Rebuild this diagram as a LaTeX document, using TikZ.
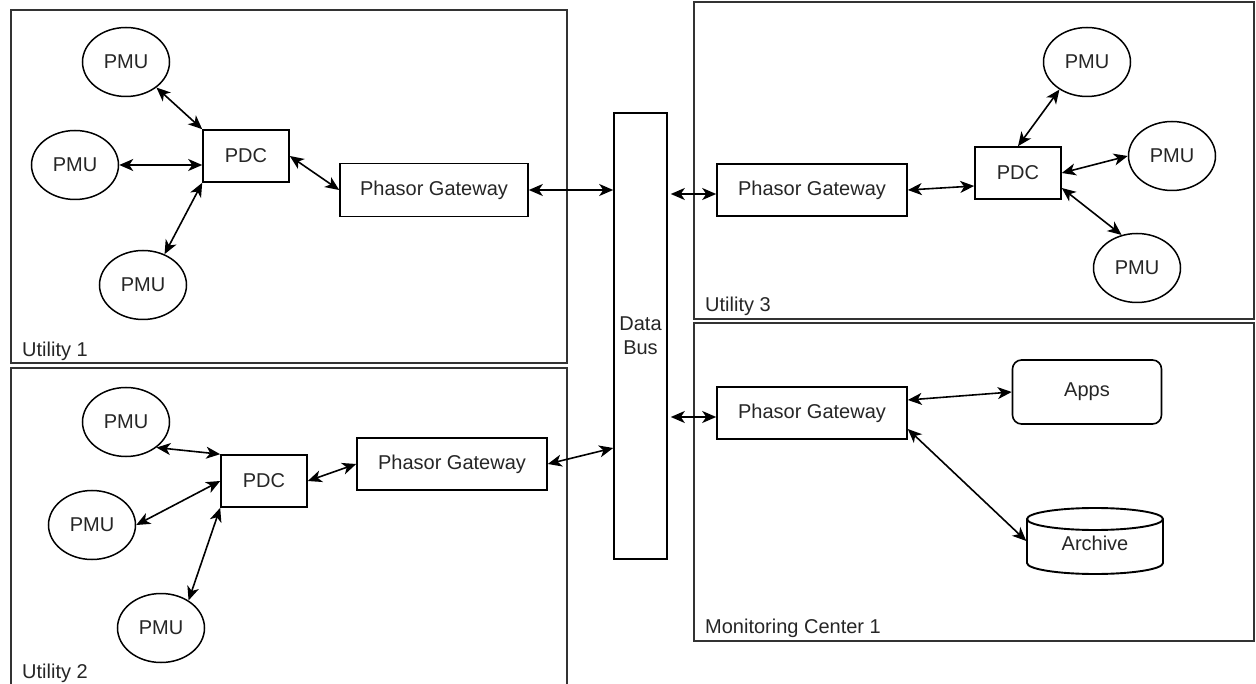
\documentclass[tikz,border=0pt]{standalone}
\usepackage{fontspec}
\setmainfont{Liberation Sans}
\usetikzlibrary{arrows.meta,calc,shapes.geometric}
\begin{document}
\begin{tikzpicture}[x=1pt,y=-1pt,
  every node/.style={font=\fontsize{20}{24}\selectfont, text=black!85},
  rbox/.style={draw=black, line width=1.6pt, inner sep=0pt, fill=white},
  pmu/.style={ellipse, draw=black, line width=1.5pt, inner sep=0pt, minimum width=87, minimum height=69, fill=white},
  pdcbox/.style={rbox, minimum width=86, minimum height=52},
  gw/.style={rbox, minimum width=190, minimum height=52},
  group/.style={draw=black!80, line width=1.8pt},
  lab/.style={anchor=base west, inner sep=0pt},
  tip/.style={Stealth[length=14pt,width=12pt,inset=4pt]},
  link/.style={{Stealth[length=14pt,width=12pt,inset=4pt]}-{Stealth[length=14pt,width=12pt,inset=4pt]}, line width=1.6pt},
  cyl/.style={draw=black, line width=1.9pt}
]
\useasboundingbox (0,0) rectangle (1256,684);
\fill[white] (0,0) rectangle (1256,684);

% groups
\draw[group] (11,10) rectangle (567,363);
\draw[group] (11,368) rectangle (567,690);
\draw[group] (694,2) rectangle (1254,319);
\draw[group] (694,323) rectangle (1254,641);

\node[lab] (l1) at (22,357) {Utility 1};
\node[lab] (l2) at (22,678) {Utility 2};
\node[lab] (l3) at (705,312) {Utility 3};
\node[lab] (l4) at (705,633) {Monitoring Center 1};

% Utility 1
\node[pmu] (u1a) at (126,62) {PMU};
\node[pmu] (u1b) at (75,165) {PMU};
\node[pmu] (u1c) at (143,285) {PMU};
\node[pdcbox] (pdc1) at (246,156) {PDC};
\node[gw, minimum width=188, minimum height=53] (gw1) at (434,190) {Phasor Gateway};

% Data bus
\node[rbox, minimum width=53, minimum height=446, align=center] (bus) at (640.5,336) {Data\\Bus};

% Utility 3
\node[gw] (gw3) at (812,190) {Phasor Gateway};
\node[pdcbox] (pdc3) at (1018,173) {PDC};
\node[pmu] (u3a) at (1087,62) {PMU};
\node[pmu] (u3b) at (1172,156) {PMU};
\node[pmu] (u3c) at (1137,268) {PMU};

% Monitoring center
\node[gw] (gwm) at (812,413) {Phasor Gateway};
\node[rbox, rounded corners=9pt, minimum width=149, minimum height=64] (apps) at (1087,392) {Apps};
\draw[cyl, fill=white] (1027,519) -- (1027,563) arc[start angle=180,end angle=0,x radius=68,y radius=11] -- (1163,519) arc[start angle=0,end angle=-180,x radius=68,y radius=11] -- cycle;
\draw[cyl] (1027,519) arc[start angle=180,end angle=0,x radius=68,y radius=11];
\node[inner sep=0pt, minimum width=137, minimum height=66] (arch) at (1095,543) {Archive};

% Utility 2
\node[pmu] (u2a) at (126,422) {PMU};
\node[pmu] (u2b) at (92,525) {PMU};
\node[pmu] (u2c) at (161,628) {PMU};
\node[pdcbox] (pdc2) at (264,481) {PDC};
\node[gw] (gw2) at (452,464) {Phasor Gateway};

% connectors
\draw[link] (u1a.-40) -- (pdc1.north west);
\draw[link] (u1b.east) -- (u1b.east -| pdc1.west);
\draw[link] (u1c.55) -- (pdc1.south west);
\draw[link] (pdc1.east) -- (gw1.west);
\draw[link] (gw1.east) -- (gw1.east -| bus.west);
\draw[link] (gw2.east) -- ($(bus.west)+(0,112)$);
\draw[link] ($(gw3.west -| bus.east)+(3,4)$) -- ($(gw3.west)+(0,4)$);
\draw[link] ($(gwm.west -| bus.east)+(3,4)$) -- ($(gwm.west)+(0,4)$);
\draw[link] (gw3.east) -- ($(pdc3.west)+(0,13)$);
\draw[link] (pdc3.north) -- (u3a.225);
\draw[link] (pdc3.east) -- (u3b.west);
\draw[link] ($(pdc3.east)+(0,15)$) -- (u3c.115);
\draw[link] ($(gwm.east)+(0,-13)$) -- (apps.west);
\draw[link] ($(gwm.east)+(0,16)$) -- ($(arch.west)+(0,-2)$);
\draw[link] (u2a.-40) -- (pdc2.north west);
\draw[link] (u2b.east) -- (pdc2.west);
\draw[link] (u2c.45) -- (pdc2.south west);
\draw[link] (pdc2.east) -- (gw2.west);
\end{tikzpicture}
\end{document}
